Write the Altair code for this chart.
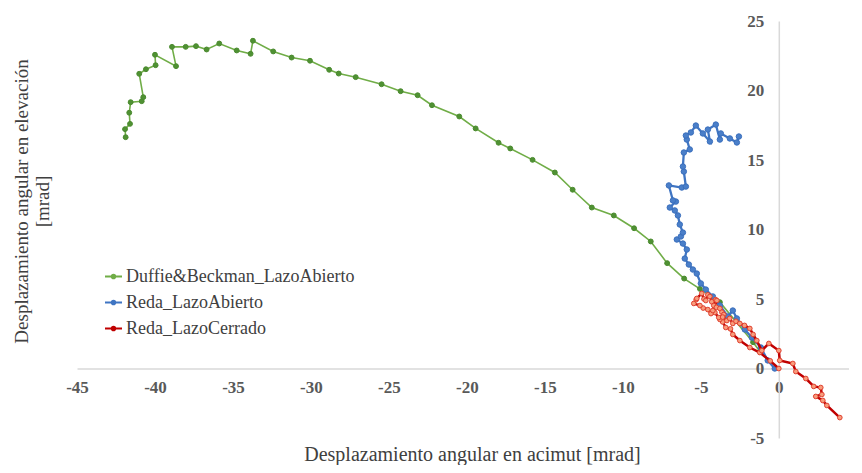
import altair as alt
import pandas as pd

series_names = ["Duffie&Beckman_LazoAbierto", "Reda_LazoAbierto", "Reda_LazoCerrado"]

gx = [-41.88, -41.92, -41.60, -41.65, -41.56, -40.85, -40.75, -41.01, -40.58, -39.96,
      -40.00, -38.65, -38.91, -38.03, -37.37, -36.69, -35.88, -34.76, -33.87, -33.72,
      -32.42, -31.24, -30.06, -28.83, -28.22, -27.13, -25.47, -24.25, -23.16, -22.24,
      -20.49, -19.44, -17.97, -17.22, -15.79, -14.36, -13.22, -11.99, -10.58, -9.28,
      -8.21, -7.16, -6.07, -5.06, -3.78, -1.65, -1.2]
gy = [16.64, 17.22, 17.60, 18.40, 19.16, 19.23, 19.52, 21.20, 21.53, 21.82,
      22.57, 21.75, 23.14, 23.14, 23.19, 22.95, 23.38, 22.88, 22.64, 23.58,
      22.81, 22.37, 22.14, 21.49, 21.22, 20.96, 20.45, 19.95, 19.66, 18.94,
      18.13, 17.27, 16.24, 15.83, 15.01, 14.10, 12.86, 11.58, 11.01, 10.09,
      9.14, 7.58, 6.47, 5.73, 4.77, 1.89, 1.2]

bx = [-0.26, -0.71, -1.15, -1.73, -2.18, -2.69, -2.95, -3.27, -3.78, -4.23,
      -4.68, -5.00, -5.26, -5.51, -5.77, -6.03, -5.90, -6.15, -6.54, -6.28,
      -6.15, -6.35, -6.47, -6.67, -6.99, -6.60, -6.79, -7.05, -6.22, -5.96,
      -6.09, -6.15, -6.09, -5.71, -5.90, -5.96, -5.64, -5.32, -4.87, -4.42,
      -4.55, -4.04, -3.78, -3.72, -3.14, -2.69, -2.56]
by = [0.0, 0.58, 1.51, 2.23, 2.81, 3.60, 4.17, 3.74, 4.53, 5.18,
      5.68, 6.12, 6.83, 7.12, 7.48, 7.91, 8.56, 8.99, 9.28, 9.50,
      9.78, 10.36, 11.01, 11.37, 11.58, 12.01, 12.09, 13.17, 13.02, 13.09,
      14.17, 14.53, 15.54, 15.76, 16.47, 16.76, 16.98, 17.48, 16.91, 16.33,
      17.19, 17.55, 16.47, 16.91, 16.55, 16.26, 16.69]

rx = [0.00, -0.55, -1.22, -1.86, -2.50, -2.95, -3.10, -3.40, -3.60, -3.78,
      -4.10, -4.35, -4.55, -4.85, -5.06, -5.45, -5.30, -5.26, -4.94, -4.80,
      -4.68, -4.55, -4.42, -4.30, -4.17, -4.05, -3.97, -4.23, -4.00, -3.78,
      -3.65, -3.53, -3.85, -3.60, -3.33, -3.15, -2.95, -2.75, -2.50, -2.20,
      -1.86, -1.65, -1.41, -1.09, -0.64, 0.00, 0.06, 0.90, 1.09, 1.73,
      2.24, 2.69, 2.76, 2.37, 2.82, 3.08, 3.91]
ry = [0.00, 0.55, 1.15, 1.51, 2.01, 2.45, 2.85, 2.95, 3.35, 3.53,
      4.03, 3.95, 4.24, 4.35, 4.53, 4.68, 4.95, 5.04, 5.40, 5.00,
      4.89, 5.30, 5.18, 4.80, 4.53, 4.95, 4.89, 4.17, 4.40, 4.32,
      4.05, 3.88, 3.67, 3.70, 3.45, 3.60, 3.24, 3.40, 3.24, 3.10,
      2.88, 2.45, 2.01, 1.29, 1.80, 1.29, 0.58, 0.36, -0.22, -0.72,
      -1.29, -1.37, -1.87, -2.01, -2.30, -2.66, -3.53]

x_ticks = [-45, -40, -35, -30, -25, -20, -15, -10, -5, 0]
y_ticks = [-5, 0, 5, 10, 15, 20, 25]

rows = []
for name, xs, ys in zip(series_names, [gx, bx, rx], [gy, by, ry]):
    for i, (a, b) in enumerate(zip(xs, ys)):
        rows.append({"series": name, "idx": i, "x": a, "y": b})
df = pd.DataFrame(rows)

W = 772
H = 417
X_DOMAIN = [-45, 4.5]
Y_DOMAIN = [-5, 25]
y0_from_bottom = H * (0 - Y_DOMAIN[0]) / (Y_DOMAIN[1] - Y_DOMAIN[0])
x0_from_left = W * (0 - X_DOMAIN[0]) / (X_DOMAIN[1] - X_DOMAIN[0])

line_colors = ["#70ad47", "#3f75c3", "#c00000"]
pt_fill = ["#4f9133", "#4a7fc9", "#f89c7c"]
pt_stroke = ["#4a8a2e", "#3a6fbd", "#e0402f"]
line_w = [1.6, 2.3, 2.5]
pt_size = [24, 30, 22]

SERIF = "Liberation Serif"
LBL = "replace(datum.label, '\u2212', '-')"

xaxis = alt.Axis(values=x_ticks, title="Desplazamiento angular en acimut [mrad]",
                 offset=-y0_from_bottom, grid=False, ticks=False, tickSize=0,
                 domainColor="#d9d9d9", domainWidth=1.5, labelExpr=LBL,
                 labelFont=SERIF, labelFontWeight="bold", labelFontSize=17,
                 labelColor="#595959", labelPadding=11, labelFlush=False,
                 titleFont=SERIF, titleFontSize=20, titleFontWeight="normal",
                 titleColor="#404040", titleX=395, titleY=92,
                 titleBaseline="alphabetic", titleAlign="center")
yaxis = alt.Axis(values=y_ticks, title=["Desplazamiento angular en elevación", "[mrad]"],
                 offset=-x0_from_left, grid=False, ticks=False, tickSize=0,
                 domainColor="#d9d9d9", domainWidth=1.5, labelExpr=LBL,
                 labelFont=SERIF, labelFontWeight="bold", labelFontSize=17,
                 labelColor="#595959", labelPadding=15, labelFlush=False,
                 titleFont=SERIF, titleFontSize=19, titleFontWeight="normal",
                 titleColor="#404040", titleX=-x0_from_left - 56, titleY=180,
                 titleAngle=270, titleBaseline="middle", titleAlign="center",
                 titleLineHeight=21)

legend = alt.Legend(title=None, orient="none", legendX=27, legendY=246,
                    labelFont=SERIF, labelFontSize=18, labelColor="#404040",
                    symbolType="M-1,0L1,0M-0.22,0A0.22,0.22,0,1,0,0.22,0A0.22,0.22,0,1,0,-0.22,0",
                    symbolSize=289, symbolStrokeWidth=2, labelOffset=3,
                    rowPadding=7, padding=0, labelLimit=400)

xenc = alt.X("x:Q", scale=alt.Scale(domain=X_DOMAIN, nice=False, zero=False), axis=xaxis)
yenc = alt.Y("y:Q", scale=alt.Scale(domain=Y_DOMAIN, nice=False, zero=False), axis=yaxis)
cenc = alt.Color("series:N", scale=alt.Scale(domain=series_names, range=line_colors), legend=legend)

layers = []
for i, name in enumerate(series_names):
    base = alt.Chart(df).transform_filter(alt.datum.series == name)
    layers.append(base.mark_line(strokeWidth=line_w[i]).encode(
        x=xenc, y=yenc, color=cenc, order="idx:Q"))
    layers.append(base.mark_circle(size=pt_size[i], fill=pt_fill[i], stroke=pt_stroke[i],
                                   strokeWidth=1, opacity=1).encode(x=xenc, y=yenc))

chart = alt.layer(*layers).properties(
    width=W, height=H,
    autosize=alt.AutoSizeParams(type="none"),
    padding={"left": 69, "top": 13, "right": 0, "bottom": 27},
    background="white",
).configure_view(stroke=None)

chart.save("out.html", embed_options={"renderer": "svg", "actions": False})
